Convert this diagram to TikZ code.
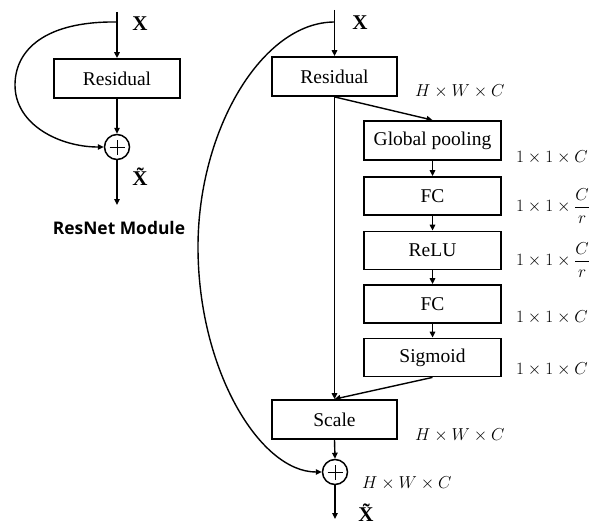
\documentclass[tikz,border=0pt]{standalone}
\usepackage{fontspec}
\usepackage{amsmath}
\setmainfont{Liberation Serif}
\newfontfamily\labsans{Open Sans}
\usetikzlibrary{arrows.meta}
\tikzset{
  box/.style={draw, line width=1.8pt, inner sep=0pt, minimum width=#1, minimum height=39pt,
    font=\fontsize{19.5}{22}\selectfont},
  box/.default=125pt,
  arr/.style={line width=1.4pt, -{Triangle[length=6pt,width=5.5pt]}},
  sumnode/.style={circle, draw, line width=1.5pt, minimum size=25pt, inner sep=0pt,
    path picture={\draw[line width=0.8pt] (path picture bounding box.center) ++(-7.5pt,0pt) -- ++(15pt,0pt)
      (path picture bounding box.center) ++(0pt,-7.5pt) -- ++(0pt,15pt);}},
  xlab/.style={font=\fontsize{21}{24}\selectfont\bfseries, inner sep=0pt},
  dimlab/.style={font=\fontsize{17}{20}\selectfont, inner sep=0pt, anchor=west},
  titlab/.style={font=\labsans\fontsize{17.4}{20}\selectfont\bfseries, inner sep=0pt}
}
\begin{document}
\begin{tikzpicture}[x=1pt,y=-1pt]
\useasboundingbox (0,0) rectangle (591,527);
% ---------- left: ResNet module ----------
\node[box=126pt] (r1) at (117,78.5) {Residual};
\node[sumnode] (p1) at (117,147) {};
\coordinate (lt) at (117,12);
\coordinate (lc) at (117,22);
\coordinate (lb) at (117,205);
\coordinate (lw) at (15,85);
\draw[arr] (lt) -- (r1.north);
\draw[arr] (r1.south) -- (p1.north);
\draw[arr] (p1.south) -- (lb);
\draw[arr] (lc) .. controls (45,21) and (15,50) .. (lw) .. controls (15,125) and (60,147) .. (p1.west);
\node[xlab] (x1) at (140,23.5) {X};
\node[xlab] (xt1) at (140,177) {\~{X}};
\node[titlab] (tit) at (119,228) {ResNet Module};
% ---------- right: SE-ResNet module ----------
\node[box=125pt] (r2) at (334.5,76.5) {Residual};
\node[box=137pt] (gp) at (432.5,140.5) {Global pooling};
\node[box=137pt, minimum height=38pt] (fc1) at (432.5,196) {FC};
\node[box=137pt, minimum height=38pt] (relu) at (432.5,250.5) {ReLU};
\node[box=137pt, minimum height=38pt] (fc2) at (432.5,304) {FC};
\node[box=137pt, minimum height=38pt] (sig) at (432.5,357.5) {Sigmoid};
\node[box=125pt] (sc) at (334.5,419.5) {Scale};
\node[sumnode] (p2) at (335,472) {};
\coordinate (rt) at (334.5,10);
\coordinate (rc) at (334.5,22);
\coordinate (rb) at (335,519);
\coordinate (rw) at (198,247);
\draw[arr] (rt) -- (r2.north);
\draw[arr] (r2.south) -- (gp.north);
\draw[arr] (gp.south) -- (fc1.north);
\draw[arr] (fc1.south) -- (relu.north);
\draw[arr] (relu.south) -- (fc2.north);
\draw[arr] (fc2.south) -- (sig.north);
\draw[arr] (sig.south) -- (sc.north);
\draw[arr] (r2.south) -- (sc.north);
\draw[arr] (sc.south) -- (p2.north);
\draw[arr] (p2.south) -- (rb);
\draw[arr] (rc) .. controls (262,22) and (198,130) .. (rw) .. controls (198,370) and (260,472) .. (p2.west);
\node[xlab] (x2) at (360,23) {X};
\node[xlab] (xt2) at (366,513) {\~{X}};
% dimension labels
\node[dimlab] (d1) at (415,91) {$H\times W\times C$};
\node[dimlab] (d2) at (516,157) {$1\times 1\times C$};
\node[dimlab] (d3) at (516,206) {$1\times 1\times \dfrac{C}{r}$};
\node[dimlab] (d4) at (516,260) {$1\times 1\times \dfrac{C}{r}$};
\node[dimlab] (d5) at (516,317) {$1\times 1\times C$};
\node[dimlab] (d6) at (516,369) {$1\times 1\times C$};
\node[dimlab] (d7) at (415,435) {$H\times W\times C$};
\node[dimlab] (d8) at (362,483.5) {$H\times W\times C$};
\end{tikzpicture}
\end{document}
